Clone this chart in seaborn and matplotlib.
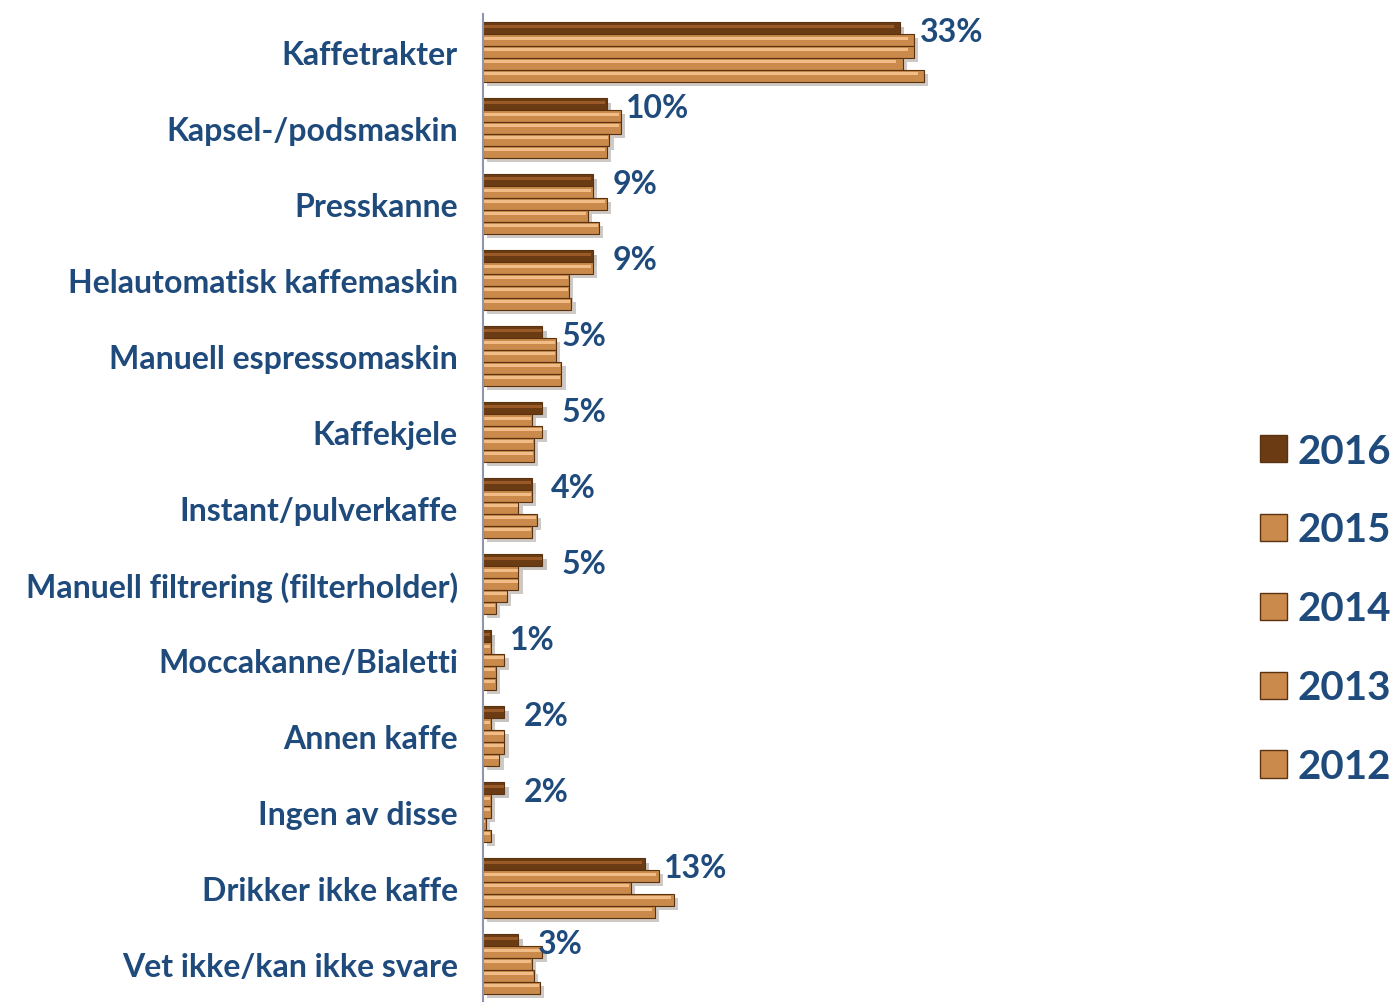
import numpy as np
import pandas as pd
import matplotlib.pyplot as plt
import matplotlib.patheffects as pe
from matplotlib.patches import Patch, Rectangle
import seaborn as sns

categories = ['Kaffetrakter', 'Kapsel-/podsmaskin', 'Presskanne', 'Helautomatisk kaffemaskin',
              'Manuell espressomaskin', 'Kaffekjele', 'Instant/pulverkaffe',
              'Manuell filtrering (filterholder)', 'Moccakanne/Bialetti', 'Annen kaffe',
              'Ingen av disse', 'Drikker ikke kaffe', 'Vet ikke/kan ikke svare']
years = ['2016', '2015', '2014', '2013', '2012']

# values (percent)
v2016 = [33.0, 9.8, 8.7, 8.7, 4.7, 4.7, 3.85, 4.7, 0.6, 1.7, 1.7, 12.8, 2.8]
v2015 = [34.1, 10.9, 8.7, 8.7, 5.75, 3.85, 3.85, 2.8, 0.6, 0.6, 0.6, 13.9, 4.7]
v2014 = [34.1, 10.9, 9.8, 6.8, 5.75, 4.7, 2.8, 2.8, 1.7, 1.7, 0.6, 11.7, 3.85]
v2013 = [33.2, 10.0, 8.3, 6.8, 6.2, 4.0, 4.25, 1.9, 1.0, 1.7, 0.2, 15.1, 4.0]
v2012 = [34.9, 9.8, 9.2, 7.0, 6.2, 4.0, 3.85, 1.0, 1.0, 1.3, 0.6, 13.6, 4.5]
labels_2016 = ['33%', '10%', '9%', '9%', '5%', '5%', '4%', '5%', '1%', '2%', '2%', '13%', '3%']

# long format for seaborn
df = pd.DataFrame({'kategori': categories * 5,
                   'aar': np.repeat(years, len(categories)),
                   'andel': v2016 + v2015 + v2014 + v2013 + v2012})

sns.set_style('white')
plt.rcParams['font.family'] = ['Lato', 'DejaVu Sans']

text_col = '#1F4A7C'
axis_col = '#8C96AE'
palette = {'2016': '#6B3C14', '2015': '#C98A4C', '2014': '#C98A4C',
           '2013': '#C98A4C', '2012': '#C98A4C'}

fig = plt.figure(figsize=(13.99, 10.03), dpi=100)
ax = fig.add_axes([483 / 1399, 0, 60 * 12.64 / 1399, 988 / 1003])

sns.barplot(data=df, y='kategori', x='andel', hue='aar', hue_order=years,
            palette=palette, orient='h', width=0.78, saturation=1,
            edgecolor='#5A3210', linewidth=0.8, legend=False, ax=ax)

# shadow + light bevel strip on every bar
for bar in list(ax.patches):
    bar.set_path_effects([pe.SimplePatchShadow(offset=(3, -3), alpha=0.25), pe.Normal()])
    x, y = bar.get_x(), bar.get_y()
    w, h = bar.get_width(), bar.get_height()
    light = '#9A5A28' if bar.get_facecolor()[0] < 0.5 else '#F1BC85'
    ax.add_patch(Rectangle((x, y + h * 0.2), w * 0.985, h * 0.25, facecolor=light,
                           edgecolor='none', zorder=bar.get_zorder() + 0.1))

# value labels next to the 2016 bars
for bar, lab in zip(ax.containers[0], labels_2016):
    ax.annotate(lab, xy=(bar.get_width(), bar.get_y() + bar.get_height() / 2),
                xytext=(14, -2), textcoords='offset points', ha='left', va='center',
                fontsize=23, fontweight='bold', color=text_col)

ax.set_xlim(0, 60)
ax.set_ylim(len(categories) - 0.5, -0.5)
ax.set_xlabel('')
ax.set_ylabel('')
ax.set_xticks([])
ax.set_yticks(range(len(categories)))
ax.set_yticklabels(categories, fontsize=23, fontweight='bold', color=text_col)
ax.tick_params(axis='y', which='major', length=0, pad=18)
ax.set_yticks(np.arange(-0.5, len(categories), 1), minor=True)
ax.tick_params(axis='y', which='minor', length=6, width=1.5, color=axis_col)
for side in ['top', 'right', 'bottom']:
    ax.spines[side].set_visible(False)
ax.spines['left'].set_color(axis_col)
ax.spines['left'].set_linewidth(1.5)

handles = [Patch(facecolor=palette[y], edgecolor='#5A3210', label=y) for y in years]
fig.legend(handles=handles, loc='center left', bbox_to_anchor=(1244 / 1399, 0.392),
           frameon=False, prop={'size': 29, 'weight': 'bold'}, labelcolor=text_col,
           handlelength=0.66, handleheight=0.66, handletextpad=0.28, labelspacing=1.04,
           borderaxespad=0)

fig.savefig('out.png', dpi=100)
